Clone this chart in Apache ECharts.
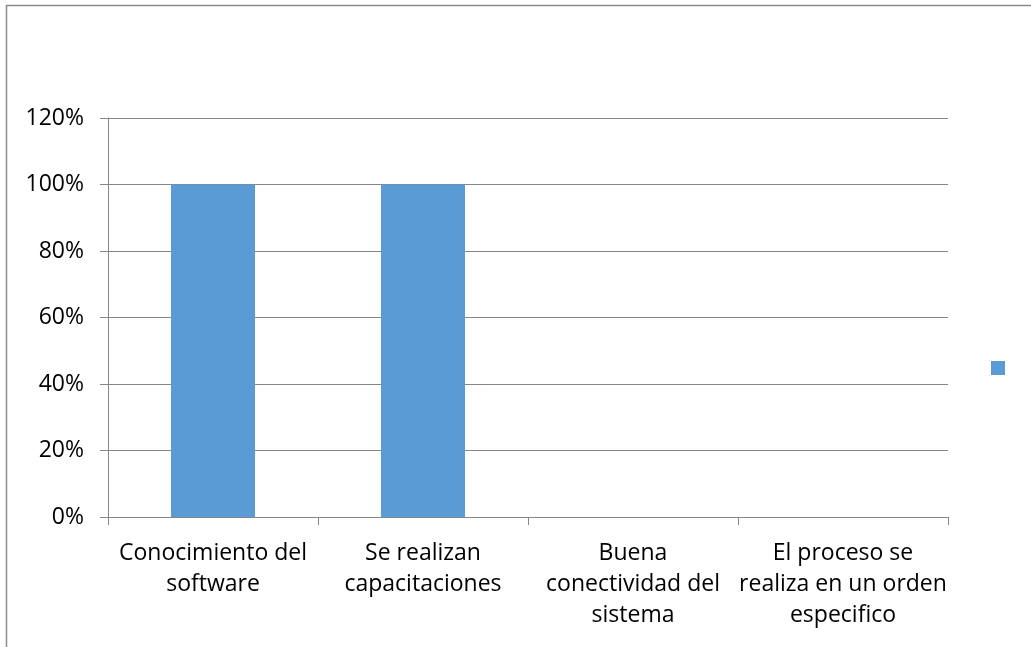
<!DOCTYPE html>
<html>
<head>
<meta charset="utf-8">
<script src="https://cdn.jsdelivr.net/npm/echarts@6/dist/echarts.min.js"></script>
<style>
  html, body { margin: 0; padding: 0; background: #fff; }
  #chart { width: 1031px; height: 647px; }
</style>
</head>
<body>
<div id="chart"></div>
<script>
// Categories (wrapped as on the axis) and their percentages
const categories = [
  'Conocimiento del\nsoftware',
  'Se realizan\ncapacitaciones',
  'Buena\nconectividad del\nsistema',
  'El proceso se\nrealiza en un orden\nespecifico'
];
const seriesName = ' ';
const values = [100, 100, 0, 0];
const yTicks = { min: 0, max: 120, interval: 20 };

const FONT = '"Open Sans", "Liberation Sans", sans-serif';
const GREY = '#868686';

const chart = echarts.init(document.getElementById('chart'), null, { renderer: 'canvas' });
chart.setOption({
  animation: false,
  backgroundColor: '#fff',
  graphic: [{
    type: 'rect',
    shape: { x: 6.5, y: 5.5, width: 1100, height: 700 },
    style: { fill: 'none', stroke: '#8c8c8c', lineWidth: 1.5 },
    silent: true
  }],
  grid: { left: 108, right: 83, top: 118, bottom: 130, containLabel: false },
  legend: {
    orient: 'vertical',
    left: 991,
    top: 361,
    padding: 0,
    itemWidth: 14,
    itemHeight: 14,
    itemGap: 0,
    icon: 'rect',
    textStyle: { fontSize: 1, color: '#fff' },
    data: [seriesName]
  },
  xAxis: {
    type: 'category',
    data: categories,
    axisLine: { lineStyle: { color: GREY, width: 1 } },
    axisTick: { show: true, length: 8, alignWithLabel: false, lineStyle: { color: GREY } },
    axisLabel: {
      interval: 0,
      margin: 21,
      color: '#000',
      fontFamily: FONT,
      fontSize: 23,
      lineHeight: 31
    }
  },
  yAxis: {
    type: 'value',
    min: yTicks.min,
    max: yTicks.max,
    interval: yTicks.interval,
    axisLine: { show: true, lineStyle: { color: GREY, width: 1 } },
    axisTick: { show: true, length: 8, lineStyle: { color: GREY } },
    splitLine: { lineStyle: { color: GREY, width: 1 } },
    axisLabel: {
      margin: 24,
      color: '#000',
      fontFamily: FONT,
      fontSize: 23,
      formatter: v => v + '%'
    }
  },
  series: [{
    name: seriesName,
    type: 'bar',
    data: values,
    barWidth: '40%',
    itemStyle: { color: '#5B9BD5' }
  }]
});
</script>
</body>
</html>
